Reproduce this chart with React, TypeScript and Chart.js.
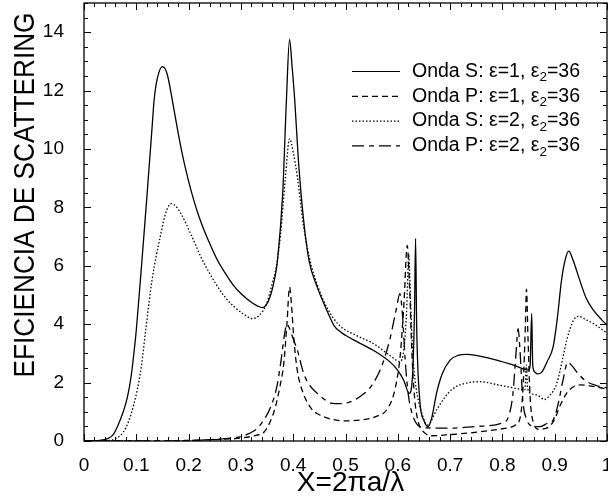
import React, { useEffect, useRef } from "react";
import { Chart, registerables } from "chart.js";

Chart.register(...registerables);

// ---- data: [x, efficiency] ----
const ondaS_e1: [number, number][] = [
  [0, 0], [0.03, 0.02], [0.045, 0.08], [0.055, 0.2], [0.064, 0.5], [0.075, 1.0], [0.083, 1.5],
  [0.09, 2.2], [0.096, 3.1], [0.1, 3.8], [0.11, 6.0], [0.12, 8.3], [0.13, 10.7], [0.134, 11.66],
  [0.14, 12.4], [0.15, 12.82], [0.155, 12.75], [0.16, 12.5], [0.169, 11.66], [0.18, 10.55],
  [0.19, 9.65], [0.2, 8.9], [0.21, 8.24], [0.22, 7.68], [0.23, 7.2], [0.24, 6.78], [0.255, 6.2],
  [0.27, 5.75], [0.285, 5.35], [0.3, 5.05], [0.32, 4.75],
  [0.341, 4.57], [0.355, 4.9], [0.365, 5.6], [0.37, 6.19], [0.38, 8.5], [0.387, 11.66],
  [0.393, 13.75], [0.398, 12.8], [0.403, 11.66], [0.41, 9.6], [0.42, 7.55], [0.43, 6.2],
  [0.446, 5.27], [0.46, 4.65], [0.47, 4.25], [0.478, 3.95], [0.49, 3.74], [0.5, 3.62],
  [0.52, 3.42], [0.553, 3.11], [0.585, 2.71], [0.6, 2.42], [0.611, 2.09], [0.622, 1.63],
  [0.628, 2.2], [0.632, 4.5], [0.634, 6.93], [0.636, 4.0], [0.642, 1.4], [0.65, 0.7],
  [0.658, 0.49], [0.665, 0.8], [0.674, 1.63], [0.685, 2.3], [0.7, 2.77], [0.715, 2.93],
  [0.732, 2.97], [0.776, 2.83], [0.821, 2.6], [0.85, 2.43], [0.853, 2.6], [0.856, 4.37],
  [0.858, 2.6], [0.862, 2.36], [0.867, 2.3], [0.875, 2.35], [0.885, 2.7], [0.897, 3.22],
  [0.905, 4.2], [0.913, 5.5], [0.92, 6.2], [0.927, 6.5], [0.935, 6.2], [0.948, 5.5],
  [0.96, 4.9], [0.974, 4.48], [0.99, 4.15], [1.0, 3.97],
];

const ondaP_e1: [number, number][] = [
  [0, 0], [0.1, 0.0], [0.2, 0.02], [0.25, 0.05], [0.3, 0.1], [0.33, 0.2], [0.344, 0.3],
  [0.357, 0.7], [0.366, 1.17], [0.375, 1.9], [0.382, 2.66], [0.388, 4.0], [0.393, 5.27],
  [0.397, 4.6], [0.4, 3.8], [0.405, 2.8], [0.41, 2.2], [0.42, 1.6], [0.435, 1.1], [0.45, 0.9],
  [0.47, 0.76], [0.5, 0.69], [0.53, 0.72], [0.56, 0.85], [0.58, 1.1], [0.595, 1.8],
  [0.605, 3.0], [0.612, 4.8], [0.618, 6.7], [0.622, 5.5], [0.627, 3.0], [0.632, 1.5],
  [0.64, 0.6], [0.65, 0.3], [0.665, 0.18], [0.7, 0.22], [0.75, 0.3], [0.8, 0.42],
  [0.825, 0.55], [0.835, 0.9], [0.84, 2.0], [0.844, 4.0], [0.846, 5.2], [0.849, 3.5],
  [0.853, 1.5], [0.86, 0.6], [0.87, 0.4], [0.88, 0.42], [0.89, 0.5], [0.9, 0.75],
  [0.91, 1.2], [0.923, 1.64], [0.936, 1.86], [0.95, 1.92], [0.97, 1.88], [1.0, 1.78],
];

const ondaS_e2: [number, number][] = [
  [0, 0], [0.04, 0.01], [0.06, 0.08], [0.08, 0.45], [0.1, 1.6], [0.11, 2.6], [0.118, 3.8],
  [0.13, 5.5], [0.147, 7.1], [0.157, 7.85], [0.167, 8.13], [0.175, 8.05], [0.185, 7.8],
  [0.195, 7.45], [0.205, 7.05], [0.215, 6.65], [0.223, 6.32], [0.24, 5.75], [0.255, 5.3],
  [0.27, 4.92], [0.287, 4.6], [0.305, 4.35], [0.322, 4.19], [0.335, 4.3], [0.349, 4.7],
  [0.36, 5.4], [0.368, 6.0], [0.376, 7.1], [0.385, 9.0], [0.393, 10.35], [0.4, 9.9],
  [0.408, 9.04], [0.42, 7.33], [0.432, 6.2], [0.446, 5.35], [0.465, 4.55], [0.489, 3.95],
  [0.52, 3.62], [0.553, 3.34], [0.585, 2.93], [0.604, 2.72], [0.612, 3.2], [0.617, 4.5],
  [0.621, 6.4], [0.624, 5.0], [0.628, 3.2], [0.633, 2.09], [0.646, 0.95], [0.657, 0.55],
  [0.674, 1.06], [0.69, 1.5], [0.706, 1.8], [0.73, 1.98], [0.757, 2.03], [0.795, 1.91],
  [0.827, 1.8], [0.843, 1.75], [0.846, 2.6], [0.848, 1.8], [0.86, 1.6], [0.872, 1.52],
  [0.88, 1.42], [0.89, 1.55], [0.904, 1.97], [0.915, 2.8], [0.923, 3.45], [0.935, 4.1],
  [0.945, 4.27], [0.96, 4.15], [0.974, 4.02], [1.0, 3.7],
];

const ondaP_e2: [number, number][] = [
  [0, 0], [0.15, 0.0], [0.22, 0.03], [0.27, 0.08], [0.3, 0.15], [0.315, 0.25], [0.331, 0.43],
  [0.345, 0.75], [0.357, 1.17], [0.368, 1.8], [0.376, 2.66], [0.383, 3.6], [0.388, 4.0],
  [0.393, 3.85], [0.4, 3.5], [0.408, 3.11], [0.42, 2.31], [0.432, 1.9], [0.446, 1.63],
  [0.46, 1.42], [0.472, 1.3], [0.49, 1.28], [0.51, 1.35], [0.53, 1.55], [0.55, 1.9],
  [0.57, 2.6], [0.585, 3.5], [0.597, 4.5], [0.604, 5.05], [0.609, 4.3], [0.614, 2.8],
  [0.62, 1.6], [0.628, 0.9], [0.638, 0.55], [0.655, 0.45], [0.7, 0.44], [0.75, 0.5],
  [0.8, 0.62], [0.812, 0.85], [0.82, 1.6], [0.826, 3.0], [0.83, 3.85], [0.834, 3.0],
  [0.839, 1.4], [0.846, 0.75], [0.86, 0.5], [0.872, 0.49], [0.885, 0.6], [0.897, 0.72],
  [0.907, 1.3], [0.916, 2.09], [0.925, 2.7], [0.932, 2.6], [0.945, 2.3], [0.96, 2.05],
  [0.98, 1.9], [1.0, 1.82],
];

const seriesLabels = [
  "Onda S: ε=1, ε₂=36",
  "Onda P: ε=1, ε₂=36",
  "Onda S: ε=2, ε₂=36",
  "Onda P: ε=2, ε₂=36",
];
const seriesData = [ondaS_e1, ondaP_e1, ondaS_e2, ondaP_e2];
const seriesDash: number[][] = [[], [6, 4], [1.5, 2], [12, 5, 5, 5]];

const xAxisTitle = "X=2πa/λ";
const yAxisTitle = "EFICIENCIA DE SCATTERING";
const X_MIN = 0, X_MAX = 1, X_STEP = 0.1, X_MINOR = 0.02;
const Y_MIN = 0, Y_MAX = 15, Y_STEP = 2, Y_MINOR = 0.5;

const FONT = '"Liberation Sans", Arial, Helvetica, sans-serif';

const decorPlugin = {
  id: "decor",
  afterDraw(chart: any) {
    const { ctx, chartArea: a, scales } = chart;
    const xs = scales.x, ys = scales.y;
    ctx.save();
    ctx.strokeStyle = "#000";
    ctx.fillStyle = "#000";
    // frame
    ctx.lineWidth = 1.3;
    ctx.strokeRect(a.left, a.top, a.right - a.left, a.bottom - a.top);
    // inward ticks on all four sides
    ctx.lineWidth = 1;
    ctx.beginPath();
    const nx = Math.round((X_MAX - X_MIN) / X_MINOR);
    const perMajX = Math.round(X_STEP / X_MINOR);
    for (let i = 0; i <= nx; i++) {
      const px = Math.round(xs.getPixelForValue(X_MIN + i * X_MINOR)) + 0.5;
      const len = i % perMajX === 0 ? 7 : 4;
      ctx.moveTo(px, a.bottom); ctx.lineTo(px, a.bottom - len);
      ctx.moveTo(px, a.top); ctx.lineTo(px, a.top + len);
    }
    const ny = Math.round((Y_MAX - Y_MIN) / Y_MINOR);
    const perMajY = Math.round(Y_STEP / Y_MINOR);
    for (let i = 0; i <= ny; i++) {
      const py = Math.round(ys.getPixelForValue(Y_MIN + i * Y_MINOR)) + 0.5;
      const len = i % perMajY === 0 ? 7 : 4;
      ctx.moveTo(a.left, py); ctx.lineTo(a.left + len, py);
      ctx.moveTo(a.right, py); ctx.lineTo(a.right - len, py);
    }
    ctx.stroke();

    // axis titles
    ctx.font = `28px ${FONT}`;
    ctx.textAlign = "center";
    ctx.textBaseline = "middle";
    ctx.fillText(xAxisTitle, (a.left + a.right) / 2 + 5, 483);

    ctx.save();
    ctx.font = `30px ${FONT}`;
    const w = ctx.measureText(yAxisTitle).width;
    ctx.translate(26, 195);
    ctx.rotate(-Math.PI / 2);
    ctx.scale(365 / w, 1);
    ctx.fillText(yAxisTitle, 0, 0);
    ctx.restore();

    // legend
    const lx0 = 352, lx1 = 400, tx = 412, ly0 = 71.5, dy = 24.8;
    chart.data.datasets.forEach((ds: any, i: number) => {
      const y = ly0 + i * dy;
      ctx.save();
      ctx.lineWidth = 1.2;
      ctx.setLineDash(ds.borderDash || []);
      ctx.beginPath();
      ctx.moveTo(lx0, y); ctx.lineTo(lx1, y);
      ctx.stroke();
      ctx.restore();
      const parts = String(ds.label).split("₂");
      ctx.textAlign = "left";
      ctx.textBaseline = "middle";
      let x = tx;
      parts.forEach((p: string, k: number) => {
        ctx.font = `19.5px ${FONT}`;
        ctx.fillText(p, x, y);
        x += ctx.measureText(p).width;
        if (k < parts.length - 1) {
          ctx.font = `13.5px ${FONT}`;
          ctx.fillText("2", x, y + 6);
          x += ctx.measureText("2").width;
        }
      });
    });
    ctx.restore();
  },
};

export default function App() {
  const ref = useRef<HTMLCanvasElement>(null);
  useEffect(() => {
    const canvas = ref.current!;
    const chart = new Chart(canvas, {
      type: "line",
      data: {
        datasets: seriesData.map((d, i) => ({
          label: seriesLabels[i],
          data: d.map(([x, y]) => ({ x, y })),
          borderColor: "#000",
          borderWidth: 1.3,
          borderDash: seriesDash[i],
          pointRadius: 0,
          fill: false,
          cubicInterpolationMode: "monotone" as const,
        })),
      },
      options: {
        responsive: false,
        maintainAspectRatio: false,
        devicePixelRatio: 1,
        animation: false,
        layout: { padding: { left: 0, top: 3, right: 33, bottom: 0 } },
        plugins: { legend: { display: false }, tooltip: { enabled: false } },
        scales: {
          x: {
            type: "linear",
            min: X_MIN,
            max: X_MAX,
            grid: { display: false },
            border: { display: false },
            ticks: {
              stepSize: X_STEP,
              autoSkip: false,
              maxRotation: 0,
              padding: 5,
              color: "#000",
              font: { size: 19, family: FONT },
              callback: (v: any) => String(Math.round(Number(v) * 10) / 10),
            },
            afterFit: (s: any) => {
              s.height = 62;
              s.paddingLeft = 0;
              s.paddingRight = 0;
            },
          },
          y: {
            type: "linear",
            min: Y_MIN,
            max: Y_MAX,
            grid: { display: false },
            border: { display: false },
            ticks: {
              stepSize: Y_STEP,
              includeBounds: false,
              padding: 12,
              color: "#000",
              font: { size: 19, family: FONT },
            },
            afterFit: (s: any) => {
              s.width = 84;
              s.paddingTop = 0;
              s.paddingBottom = 0;
            },
          },
        },
      },
      plugins: [decorPlugin],
    });
    return () => chart.destroy();
  }, []);
  return (
    <div style={{ position: "fixed", left: 0, top: 0, width: 640, height: 503, background: "#fff" }}>
      <canvas ref={ref} width={640} height={503} style={{ width: 640, height: 503, display: "block" }} />
    </div>
  );
}
